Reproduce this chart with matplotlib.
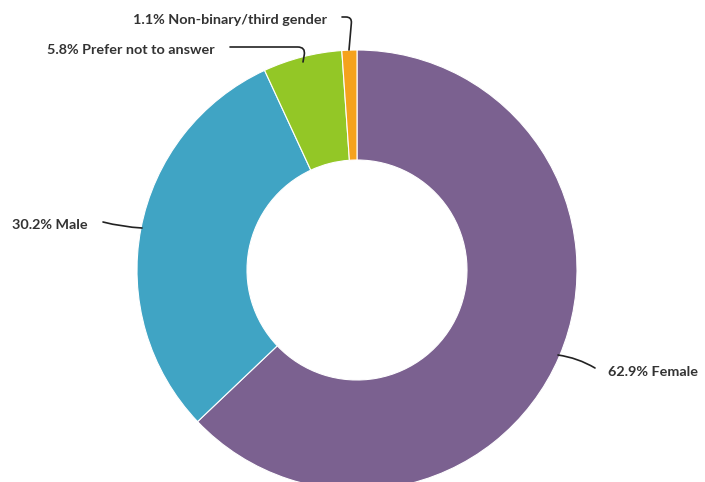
import matplotlib.pyplot as plt

labels = ['Female', 'Male', 'Prefer not to answer', 'Non-binary/third gender']
values = [62.9, 30.2, 5.8, 1.1]
colors = ['#7b6190', '#40a4c4', '#93c726', '#f5a21c']

# label text position, line start, line end (pixel coords, y from top), alignment, connector style
label_pos = [(608, 372), (88, 225), (215, 50), (327, 20)]
line_start = [(595, 368), (103, 222), (230, 47), (342, 17)]
line_end = [(558, 355), (142, 228), (303, 62), (349, 50)]
aligns = ['left', 'right', 'right', 'right']
conn = ['arc3,rad=0.1', 'arc3,rad=0.05',
        'angle,angleA=0,angleB=80,rad=8', 'angle,angleA=0,angleB=85,rad=6']

W, H = 705, 482
fig = plt.figure(figsize=(7.05, 4.82), dpi=100)
ax = fig.add_axes([0, 0, 1, 1])

ax.pie(values, colors=colors, startangle=90, counterclock=False,
       center=(357, H - 270), radius=220, frame=True,
       wedgeprops=dict(width=110, edgecolor='white', linewidth=0.8))
ax.set_xlim(0, W)
ax.set_ylim(0, H)
ax.set_aspect('equal')
ax.axis('off')

for lab, val, tp, s, e, ha, c in zip(labels, values, label_pos, line_start, line_end, aligns, conn):
    ax.text(tp[0], H - tp[1], f'{val}% {lab}', ha=ha, va='center',
            fontsize=10.4, fontweight='bold', family='Lato', color='#333333')
    ax.annotate('', xy=(e[0], H - e[1]), xytext=(s[0], H - s[1]),
                arrowprops=dict(arrowstyle='-', color='#222222', lw=1.2,
                                connectionstyle=c, shrinkA=0, shrinkB=0))

fig.savefig('out.png', dpi=100)
